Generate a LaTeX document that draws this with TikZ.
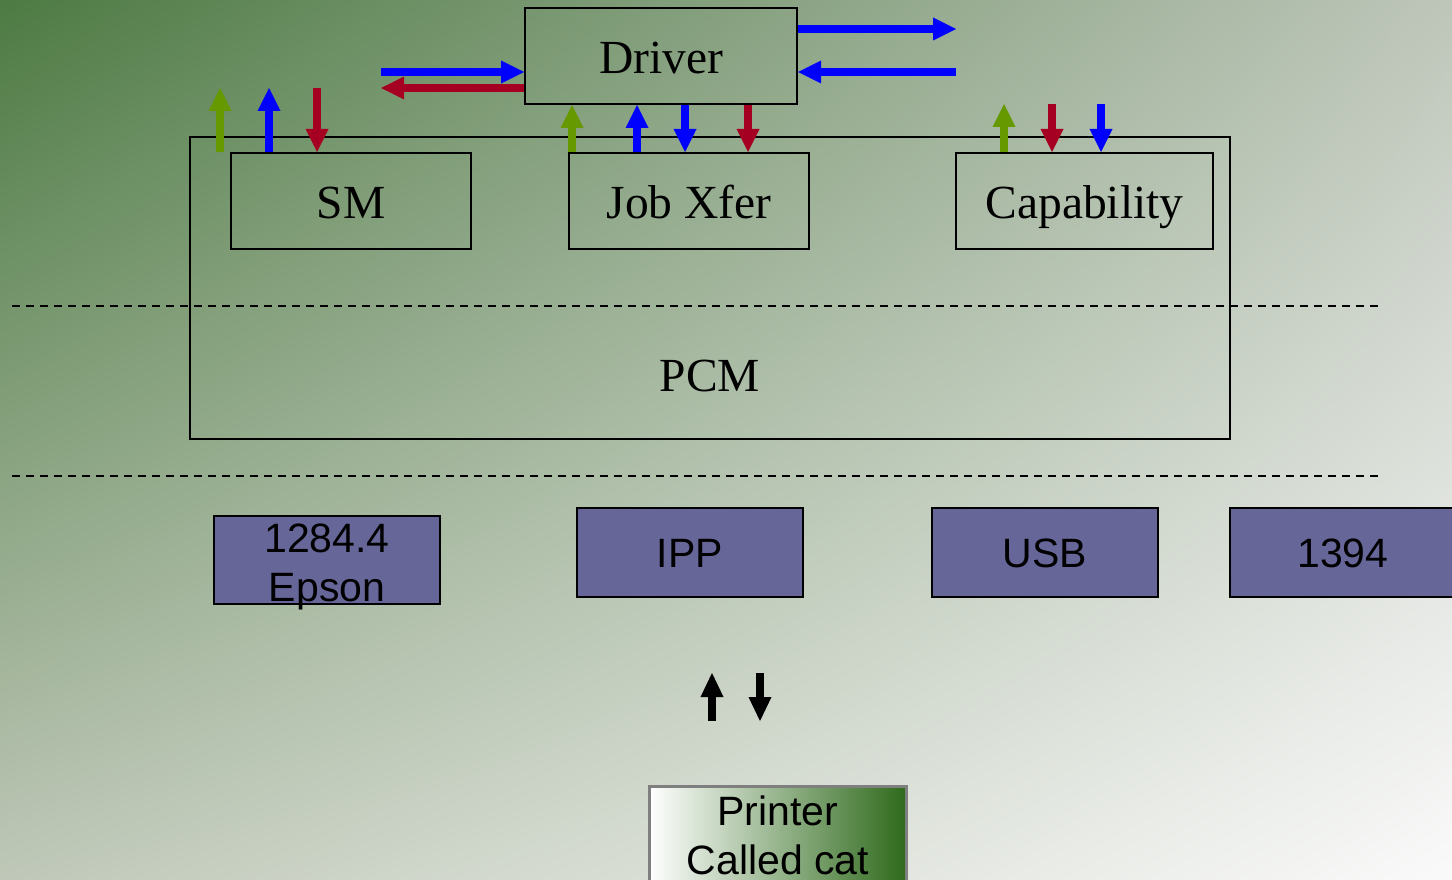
\documentclass[tikz,border=0pt]{standalone}
\usepackage{fontspec}
\setmainfont{Liberation Serif}
\newfontfamily\arialfont{Liberation Sans}
\usetikzlibrary{arrows.meta,shadings}

\definecolor{bgTL}{HTML}{4D7A43}
\definecolor{bgTR}{HTML}{BEC6BA}
\definecolor{bgBL}{HTML}{BFC8B8}
\definecolor{bgBR}{HTML}{FAFAFA}
\definecolor{flowblue}{HTML}{0000FF}
\definecolor{flowred}{HTML}{A50021}
\definecolor{flowgreen}{HTML}{669900}
\definecolor{portfill}{HTML}{666699}
\definecolor{printmid}{HTML}{B4BEAE}
\definecolor{printdark}{HTML}{2F6A1C}
\definecolor{printedge}{HTML}{7F7F7F}

\tikzset{
  layerbox/.style={draw=black, line width=2pt, rectangle, inner sep=0pt,
    font=\fontsize{47.5}{57}\selectfont, text height=35pt, text depth=0pt},
  portbox/.style={draw=black, line width=2pt, fill=portfill, rectangle, inner sep=0pt,
    minimum width=226pt, font=\arialfont\fontsize{41}{49}\selectfont,
    text height=29.4pt, text depth=0pt, align=center},
  portlabel/.style={inner sep=0pt, font=\arialfont\fontsize{41}{49}\selectfont,
    text height=29.4pt, text depth=0pt, align=center},
  sepline/.style={line width=2pt, dash pattern=on 8pt off 6pt},
  flow/.style={line width=8pt, -{Triangle[length=23pt, width=23pt, line width=0pt]}},
  bflow/.style={flow, draw=flowblue, color=flowblue},
  rflow/.style={flow, draw=flowred, color=flowred},
  gflow/.style={flow, draw=flowgreen, color=flowgreen},
  kflow/.style={line width=8.5pt, black, -{Triangle[length=24pt, width=23pt, line width=0pt]}},
}

\begin{document}
\begin{tikzpicture}[x=1pt, y=-1pt]
  \useasboundingbox (0,0) rectangle (1452,880);
  % background
  \shade[upper left=bgTL, upper right=bgTR, lower left=bgBL, lower right=bgBR]
    (0,0) rectangle (1452,880);

  % PCM frame and separators
  \node[layerbox, minimum width=1040pt, minimum height=302pt] (pcm) at (710,288) {};
  \node[font=\fontsize{47.5}{57}\selectfont, text height=31.4pt, text depth=0pt, inner sep=0pt]
    (pcmlabel) at (710,376) {PCM};
  \coordinate (d1l) at (12,306);  \coordinate (d1r) at (1378,306);
  \coordinate (d2l) at (12,476);  \coordinate (d2r) at (1378,476);
  \draw[sepline] (d1l) -- (d1r);
  \draw[sepline] (d2l) -- (d2r);

  % upper layer
  \node[layerbox, minimum width=272pt, minimum height=96pt] (driver) at (661,56) {Driver};
  \node[layerbox, minimum width=240pt, minimum height=96pt] (sm) at (351,201) {SM};
  \node[layerbox, minimum width=240pt, minimum height=96pt] (job) at (689,201) {Job Xfer};
  \node[layerbox, minimum width=257pt, minimum height=96pt] (cap) at (1084.5,201) {Capability};

  % transports
  \node[portbox, minimum height=88pt] (epson) at (327,560) {};
  \node[portlabel] (epsonlabel) at ([yshift=-27pt]epson.center) {1284.4\\Epson};
  \node[portbox, minimum height=89pt] (ipp) at (690,552.5) {IPP};
  \node[portbox, minimum height=89pt] (usb) at (1045,552.5) {USB};
  \node[portbox, minimum height=89pt] (fw) at (1343,552.5) {1394};

  % printer
  \node[draw=printedge, line width=3pt, rectangle, inner sep=0pt,
        minimum width=257pt, minimum height=110pt, anchor=north,
        left color=white, middle color=printmid, right color=printdark]
    (printer) at (777.5,785) {};
  \node[portlabel] (printerlabel) at (778,860) {Printer\\Called cat};

  % SM flows
  \coordinate (smA) at (220,88);
  \coordinate (smB) at (269,88);
  \coordinate (smC) at (317,88);
  \draw[gflow] (sm.north -| smA) -- (smA);
  \draw[bflow] (sm.north -| smB) -- (smB);
  \draw[rflow] (smC) -- (sm.north -| smC);

  % Driver side flows, left
  \coordinate (dl1) at (381,72);
  \coordinate (dl2) at (381,88);
  \draw[bflow] (dl1) -- (driver.west |- dl1);
  \draw[rflow] (driver.west |- dl2) -- (dl2);

  % Driver side flows, right
  \coordinate (dr1) at (956,29);
  \coordinate (dr2) at (956,72);
  \draw[bflow] (driver.east |- dr1) -- (dr1);
  \draw[bflow] (dr2) -- (driver.east |- dr2);

  % Job Xfer <-> Driver
  \coordinate (jA) at (572,0);
  \coordinate (jB) at (637,0);
  \coordinate (jC) at (685,0);
  \coordinate (jD) at (748,0);
  \draw[gflow] (job.north -| jA) -- (driver.south -| jA);
  \draw[bflow] (job.north -| jB) -- (driver.south -| jB);
  \draw[bflow] (driver.south -| jC) -- (job.north -| jC);
  \draw[rflow] (driver.south -| jD) -- (job.north -| jD);

  % Capability flows
  \coordinate (cA) at (1004,104);
  \coordinate (cB) at (1052,104);
  \coordinate (cC) at (1101,104);
  \draw[gflow] (cap.north -| cA) -- (cA);
  \draw[rflow] (cB) -- (cap.north -| cB);
  \draw[bflow] (cC) -- (cap.north -| cC);

  % printer link
  \coordinate (up1) at (712,721);
  \coordinate (up2) at (712,673);
  \coordinate (dn1) at (760,673);
  \coordinate (dn2) at (760,721);
  \draw[kflow] (up1) -- (up2);
  \draw[kflow] (dn1) -- (dn2);
\end{tikzpicture}
\end{document}
